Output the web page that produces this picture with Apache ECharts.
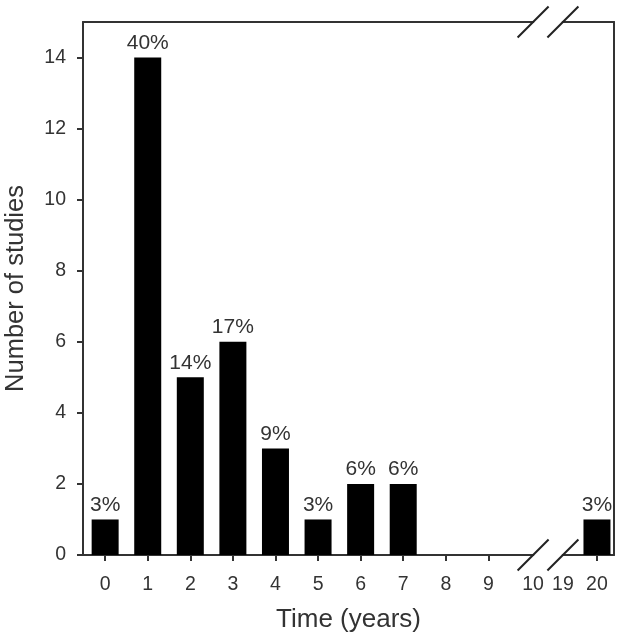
<!DOCTYPE html>
<html>
<head>
<meta charset="utf-8">
<script src="https://cdn.jsdelivr.net/npm/echarts@6/dist/echarts.min.js"></script>
<style>html,body{margin:0;padding:0;background:#fff;}#c{width:618px;height:640px;}</style>
</head>
<body>
<div id="c"></div>
<script>
// Axis labels and their (broken-axis) positions
const timeLabels = ['0','1','2','3','4','5','6','7','8','9','10','19','20'];
const labelPositions = [0,1,2,3,4,5,6,7,8,9,10.05,10.75,11.55];
const tickLabels = ['0','1','2','3','4','5','6','7','8','9','20'];
const yTicks = [0,2,4,6,8,10,12,14];

// Data
const studyYears = ['0','1','2','3','4','5','6','7','20'];
const studyCounts = [1,14,5,6,3,1,2,2,1];
const studyPercents = ['3%','40%','14%','17%','9%','3%','6%','6%','3%'];

const posOf = lbl => labelPositions[timeLabels.indexOf(lbl)];
const tickPositions = tickLabels.map(posOf);
const barData = studyYears.map((y, i) => ({ value: [posOf(y), studyCounts[i]], label: { formatter: studyPercents[i] } }));

const TXT = '#333';
const LINE = '#333';
const FONT = 'Liberation Sans, Arial, sans-serif';
const XMIN = -0.52, XMAX = 11.95;

const chart = echarts.init(document.getElementById('c'));
chart.setOption({
  animation: false,
  grid: { left: 83, right: 4, top: 22, bottom: 85, outerBoundsMode: 'none', containLabel: false },
  xAxis: [{
    type: 'value', min: XMIN, max: XMAX, position: 'bottom',
    name: 'Time (years)', nameLocation: 'middle', nameGap: 52,
    nameTextStyle: { fontSize: 26, color: TXT, fontFamily: FONT },
    axisLine: { show: true, onZero: false, lineStyle: { color: LINE, width: 2 } },
    axisTick: { show: true, inside: false, length: 6, customValues: tickPositions, lineStyle: { color: LINE, width: 2 } },
    axisLabel: {
      show: true, customValues: labelPositions, margin: 20, fontSize: 19.5, color: TXT, fontFamily: FONT,
      formatter: v => { const i = labelPositions.findIndex(p => Math.abs(p - v) < 1e-6); return i >= 0 ? timeLabels[i] : ''; }
    },
    splitLine: { show: false }
  }, {
    type: 'value', min: XMIN, max: XMAX, position: 'top',
    axisLine: { show: true, onZero: false, lineStyle: { color: LINE, width: 2 } },
    axisTick: { show: false }, axisLabel: { show: false }, splitLine: { show: false }
  }],
  yAxis: [{
    type: 'value', min: 0, max: 15, position: 'left',
    name: 'Number of studies', nameLocation: 'middle', nameGap: 54,
    nameTextStyle: { fontSize: 25.5, color: TXT, fontFamily: FONT },
    axisLine: { show: true, onZero: false, lineStyle: { color: LINE, width: 2 } },
    axisTick: { show: true, inside: false, length: 6, customValues: yTicks, lineStyle: { color: LINE, width: 2 } },
    axisLabel: { show: true, customValues: yTicks, margin: 17, fontSize: 19.5, color: TXT, fontFamily: FONT },
    splitLine: { show: false }
  }, {
    type: 'value', min: 0, max: 15, position: 'right',
    axisLine: { show: true, onZero: false, lineStyle: { color: LINE, width: 2 } },
    axisTick: { show: false }, axisLabel: { show: false }, splitLine: { show: false }
  }],
  series: [{
    type: 'bar', xAxisIndex: 0, yAxisIndex: 0, barWidth: 27,
    itemStyle: { color: '#000' },
    label: { show: true, position: 'top', distance: 4, fontSize: 21, color: TXT, fontFamily: FONT },
    data: barData
  }]
});

// Axis break marks
function drawBreaks() {
  const p1 = posOf('10'), p2 = posOf('19');
  const b1 = chart.convertToPixel({ xAxisIndex: 0, yAxisIndex: 0 }, [p1, 0]);
  const b2 = chart.convertToPixel({ xAxisIndex: 0, yAxisIndex: 0 }, [p2, 0]);
  const t1 = chart.convertToPixel({ xAxisIndex: 0, yAxisIndex: 0 }, [p1, 15]);
  const t2 = chart.convertToPixel({ xAxisIndex: 0, yAxisIndex: 0 }, [p2, 15]);
  const d = 15.5;
  const els = [];
  [[b1, b2], [t1, t2]].forEach(([a, b]) => {
    els.push({ type: 'rect', shape: { x: a[0] + 1, y: a[1] - 3, width: b[0] - a[0] - 2, height: 6 }, style: { fill: '#fff' }, z: 100 });
    [a, b].forEach(c => {
      els.push({ type: 'line', shape: { x1: c[0] - d, y1: c[1] + d, x2: c[0] + d, y2: c[1] - d }, style: { stroke: '#222', lineWidth: 2 }, z: 101 });
    });
  });
  chart.setOption({ graphic: els });
}
drawBreaks();
</script>
</body>
</html>
